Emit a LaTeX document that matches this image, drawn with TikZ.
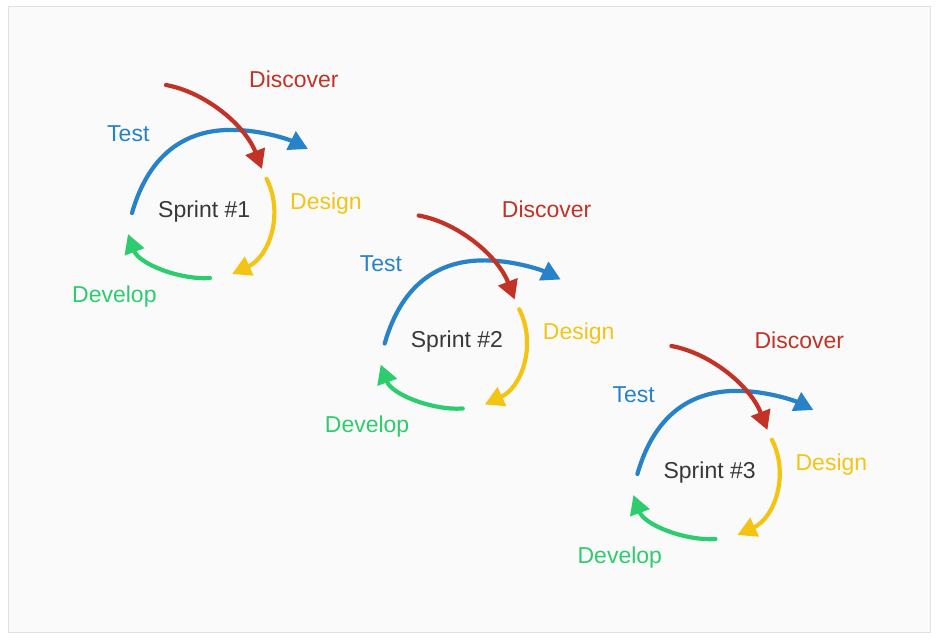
\documentclass[tikz,border=0pt]{standalone}
\usepackage{fontspec}
\setmainfont{Liberation Sans}
\usetikzlibrary{arrows.meta}
\definecolor{sred}{HTML}{C33226}
\definecolor{sblue}{HTML}{2882C8}
\definecolor{syellow}{HTML}{F4C414}
\definecolor{sgreen}{HTML}{2DCC6E}
\definecolor{stext}{HTML}{383838}
\definecolor{bgfill}{HTML}{FAFAFA}
\definecolor{bgline}{HTML}{DCE3E8}
\tikzset{
  arc/.style={line width=4.2pt, line cap=round, -{Triangle[length=19pt 0 1,width=20pt 0 1]}},
  lbl/.style={anchor=base west, inner sep=0pt, font=\fontsize{23pt}{27pt}\selectfont},
}
\newcommand{\onesprint}[3]{%
  \begin{scope}[shift={(#1,#2)}]
    \node[lbl, text=stext] (sp#3) at (158,217) {Sprint \##3};
    \node[lbl, text=sred] (disc#3) at (249,87) {Discover};
    \node[lbl, text=sblue] (test#3) at (107,141) {Test};
    \node[lbl, text=syellow] (des#3) at (290,209) {Design};
    \node[lbl, text=sgreen] (dev#3) at (72,302) {Develop};
    % blue arc (Test)
    \draw[arc, sblue] (132,213) .. controls (150,150) and (190,128) .. (237,130)
                      .. controls (265,131) and (290,140) .. (308,149);
    % red arrow (Discover)
    \draw[arc, sred] (166,85) .. controls (205,92) and (245,125) .. (262,169);
    % yellow arc (Design)
    \draw[arc, syellow] (266.5,178.7) .. controls (284.4,213.9) and (269.1,256.9) .. (232,274);
    % green arc (Develop)
    \draw[arc, sgreen] (210,278) .. controls (180,280) and (139,264) .. (128,234);
  \end{scope}}
\begin{document}
\begin{tikzpicture}[x=1pt,y=-1pt]
  \useasboundingbox (0,0) rectangle (939,641);
  \draw[fill=bgfill, draw=bgline, line width=1pt] (8.5,6.5) rectangle (930.5,632);
  \onesprint{0}{0}{1}
  \onesprint{252.7}{130.5}{2}
  \onesprint{505.4}{261}{3}
\end{tikzpicture}
\end{document}
